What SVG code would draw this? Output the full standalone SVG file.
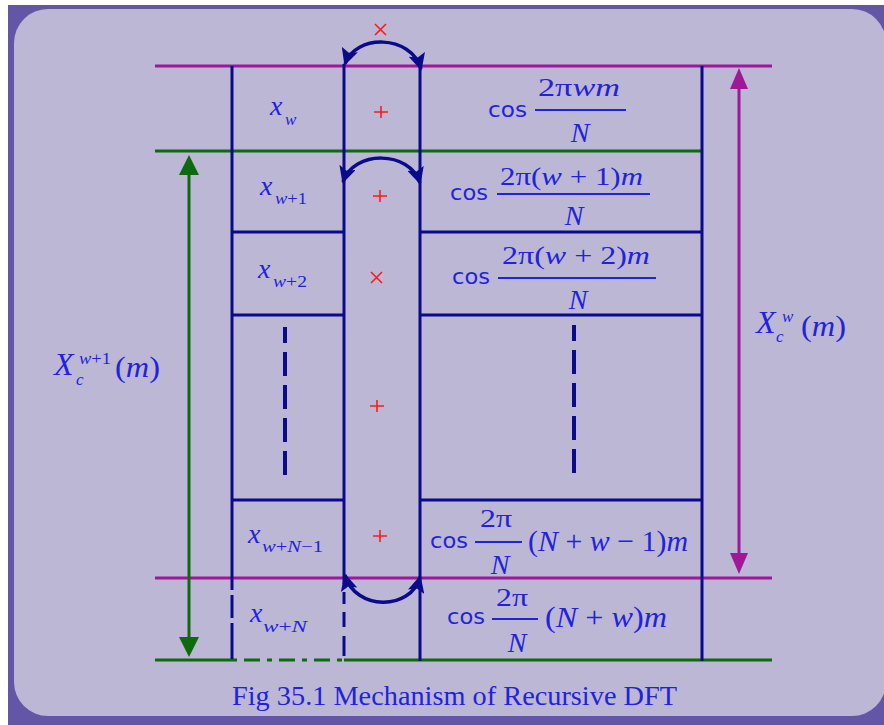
<svg xmlns="http://www.w3.org/2000/svg" width="884" height="725" viewBox="0 0 884 725">
<defs>
<style>
.ln{stroke:#0a0a8c;stroke-width:3;fill:none}
.mg{stroke:#a0189a;stroke-width:3;fill:none}
.gr{stroke:#0d6b0d;stroke-width:3;fill:none}
.dsh{stroke:#0a0a8c;stroke-width:4;fill:none;stroke-dasharray:24 9;stroke-dashoffset:8}
.arc{stroke:#0a0a8c;stroke-width:3.5;fill:none;marker-start:url(#ah);marker-end:url(#ah)}
.red{stroke:#ff1a1a;stroke-width:1.6;fill:none}
.frac{stroke:#2222dd;stroke-width:2}
text{fill:#2222dd;font-family:"Liberation Serif","Times New Roman",serif}
.cos{font-family:"DejaVu Sans",Verdana,sans-serif;font-size:21px}
.mi{font-style:italic;font-size:28px}
.sub{font-size:17px}
.it{font-style:italic}
.num{font-size:25px}
.den{font-size:28px;font-style:italic}
.big{font-size:32px;font-style:italic}
.par{font-size:30px}
</style>
<marker id="ah" viewBox="0 0 10 10" refX="9" refY="5" markerWidth="17" markerHeight="17" markerUnits="userSpaceOnUse" orient="auto-start-reverse">
<path d="M0,0 L10,5 L0,10 L2,5 z" fill="#0a0a8c"/>
</marker>
</defs>

<rect x="0" y="0" width="884" height="725" fill="#ffffff"/>
<rect x="8" y="5" width="876" height="720" fill="#6356a6"/>
<rect x="14" y="9" width="872" height="707" rx="34" ry="34" fill="#bbb7d5"/>

<g id="grid">
<line class="mg" x1="155" y1="66" x2="772" y2="66"/>
<line class="gr" x1="155" y1="151" x2="702" y2="151"/>
<line class="mg" x1="155" y1="578" x2="772" y2="578"/>
<line class="gr" x1="155" y1="660" x2="232" y2="660"/>
<line class="gr" x1="232" y1="660" x2="344" y2="660" style="stroke-dasharray:5 7 16 7"/>
<line class="gr" x1="344" y1="660" x2="772" y2="660"/>
<line class="ln" x1="232" y1="66" x2="232" y2="579"/>
<line class="ln" x1="232" y1="579" x2="232" y2="659" style="stroke-dasharray:11 5 23 5 40"/>
<line class="ln" x1="344" y1="64" x2="344" y2="579"/>
<line class="ln" x1="344" y1="579" x2="344" y2="659" style="stroke-dasharray:5 8 12 8 15 9 20"/>
<line class="ln" x1="420" y1="66" x2="420" y2="661"/>
<line class="ln" x1="702" y1="66" x2="702" y2="661"/>
<line class="ln" x1="232" y1="232" x2="344" y2="232"/>
<line class="ln" x1="420" y1="232" x2="702" y2="232"/>
<line class="ln" x1="232" y1="315" x2="344" y2="315"/>
<line class="ln" x1="420" y1="315" x2="702" y2="315"/>
<line class="ln" x1="232" y1="500" x2="344" y2="500"/>
<line class="ln" x1="420" y1="500" x2="702" y2="500"/>
<line class="dsh" x1="285" y1="327" x2="285" y2="481"/>
<line class="dsh" x1="574" y1="325" x2="574" y2="478"/>
</g>

<g id="ops">
<path class="red" d="M375,24 L386,35 M386,24 L375,35"/>
<path class="red" d="M374,112 L388,112 M381,106 L381,118"/>
<path class="red" d="M373,196 L387,196 M380,190 L380,202"/>
<path class="red" d="M371,272 L382,283 M382,272 L371,283"/>
<path class="red" d="M370,406 L384,406 M377,400 L377,412"/>
<path class="red" d="M373,536 L387,536 M380,530 L380,542"/>
</g>

<g id="row-w">
<text class="mi" x="270" y="115">x</text>
<text class="sub it" x="285" y="125">w</text>
<text class="cos" x="488" y="117" textLength="39" lengthAdjust="spacingAndGlyphs">cos</text>
<text class="num" x="538" y="96" font-size="23" textLength="82" lengthAdjust="spacingAndGlyphs">2π<tspan class="it">wm</tspan></text>
<line class="frac" x1="535" y1="110" x2="626" y2="110"/>
<text class="den" x="580" y="142" text-anchor="middle">N</text>
</g>

<g id="row-w1">
<text class="mi" x="260" y="195">x</text>
<text class="sub" x="275" y="204" textLength="32" lengthAdjust="spacingAndGlyphs"><tspan class="it">w</tspan>+1</text>
<text class="cos" x="450" y="200" textLength="38" lengthAdjust="spacingAndGlyphs">cos</text>
<text class="num" x="500" y="185" textLength="143" lengthAdjust="spacingAndGlyphs">2π(<tspan class="it">w</tspan> + 1)<tspan class="it">m</tspan></text>
<line class="frac" x1="497" y1="194" x2="650" y2="194"/>
<text class="den" x="574" y="225" text-anchor="middle">N</text>
</g>

<g id="row-w2">
<text class="mi" x="258" y="278">x</text>
<text class="sub" x="273" y="287" textLength="34" lengthAdjust="spacingAndGlyphs"><tspan class="it">w</tspan>+2</text>
<text class="cos" x="452" y="284" textLength="38" lengthAdjust="spacingAndGlyphs">cos</text>
<text class="num" x="502" y="264" textLength="148" lengthAdjust="spacingAndGlyphs">2π(<tspan class="it">w</tspan> + 2)<tspan class="it">m</tspan></text>
<line class="frac" x1="498" y1="278" x2="656" y2="278"/>
<text class="den" x="578" y="309" text-anchor="middle">N</text>
</g>

<g id="row-wN1">
<text class="mi" x="248" y="543">x</text>
<text class="sub" x="262" y="552" textLength="61" lengthAdjust="spacingAndGlyphs"><tspan class="it">w</tspan>+<tspan class="it">N</tspan>−1</text>
<text class="cos" x="430" y="548" textLength="38" lengthAdjust="spacingAndGlyphs">cos</text>
<text class="num" x="480" y="527" textLength="32" lengthAdjust="spacingAndGlyphs">2π</text>
<line class="frac" x1="475" y1="542" x2="522" y2="542"/>
<text class="den" x="500" y="574" text-anchor="middle">N</text>
<text class="par" x="528" y="551" textLength="160" lengthAdjust="spacingAndGlyphs">(<tspan class="it">N</tspan> + <tspan class="it">w</tspan> − 1)<tspan class="it">m</tspan></text>
</g>

<g id="row-wN">
<text class="mi" x="250" y="622">x</text>
<text class="sub" x="263" y="632" textLength="44" lengthAdjust="spacingAndGlyphs"><tspan class="it">w</tspan>+<tspan class="it">N</tspan></text>
<text class="cos" x="447" y="624" textLength="38" lengthAdjust="spacingAndGlyphs">cos</text>
<text class="num" x="496" y="606" textLength="32" lengthAdjust="spacingAndGlyphs">2π</text>
<line class="frac" x1="492" y1="619" x2="538" y2="619"/>
<text class="den" x="517" y="652" text-anchor="middle">N</text>
<text class="par" x="545" y="627" textLength="122" lengthAdjust="spacingAndGlyphs">(<tspan class="it">N</tspan> + <tspan class="it">w</tspan>)<tspan class="it">m</tspan></text>
</g>

<g id="label-left">
<text class="big" x="54" y="375">X</text>
<text class="sub" x="79" y="364" textLength="32" lengthAdjust="spacingAndGlyphs"><tspan class="it">w</tspan>+1</text>
<text class="sub it" x="76" y="385" font-size="19">c</text>
<text class="par" x="115" y="377" textLength="45" lengthAdjust="spacingAndGlyphs">(<tspan class="it">m</tspan>)</text>
</g>

<g id="label-right">
<text class="big" x="756" y="333">X</text>
<text class="sub it" x="782" y="322">w</text>
<text class="sub it" x="776" y="342" font-size="19">c</text>
<text class="par" x="801" y="336" textLength="45" lengthAdjust="spacingAndGlyphs">(<tspan class="it">m</tspan>)</text>
</g>

<g id="connectors">
<path class="arc" d="M345,64 C355,34 411,34 421,69"/>
<path class="arc" d="M343,182 C353,150 410,150 420,183"/>
<path class="arc" d="M345,575 C355,611 411,611 420,577"/>
<line class="gr" x1="189" y1="172" x2="189" y2="640"/>
<polygon points="189,155 179,175 199,175" fill="#0d6b0d"/>
<polygon points="189,657 179,637 199,637" fill="#0d6b0d"/>
<line class="mg" x1="739" y1="85" x2="739" y2="557"/>
<polygon points="739,68 730,89 748,89" fill="#a0189a"/>
<polygon points="739,574 730,553 748,553" fill="#a0189a"/>
</g>

<text x="232" y="705" font-size="28" textLength="445" lengthAdjust="spacingAndGlyphs">Fig 35.1 Mechanism of Recursive DFT</text>
</svg>
